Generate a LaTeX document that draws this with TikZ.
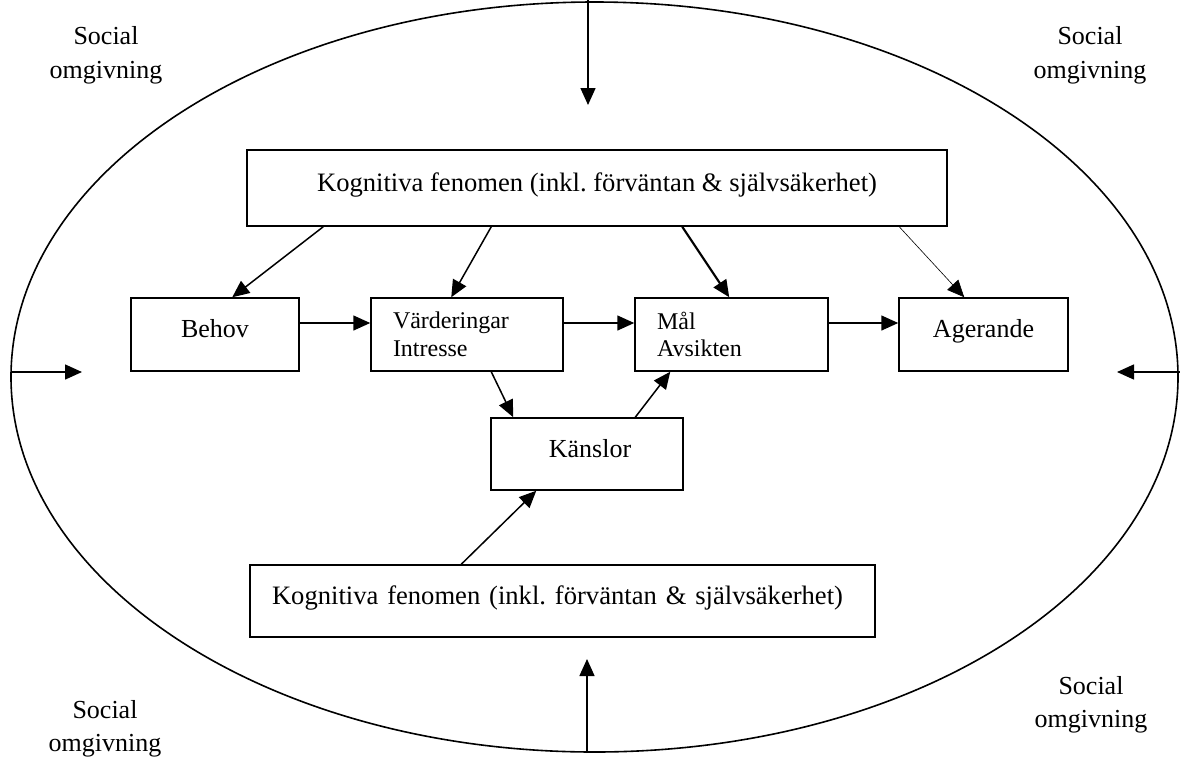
\documentclass[tikz,border=0pt]{standalone}
\usepackage{fontspec}
\setmainfont{Liberation Serif}
\usetikzlibrary{arrows.meta}
\frenchspacing
\begin{document}
\begin{tikzpicture}[x=1pt,y=-1pt,
  line width=1.5pt,
  >={Triangle[length=17pt,width=15pt]},
  box/.style={draw, line width=1.5pt, inner sep=0pt,
    font=\fontsize{26}{30}\selectfont, text height=18pt, text depth=12pt},
  cogbox/.style={box, font=\fontsize{26.6}{30}\selectfont},
  twobox/.style={draw, line width=1.5pt, inner ysep=0pt, inner xsep=22pt,
    align=left, font=\fontsize{24}{27.5}\selectfont},
  envtext/.style={inner sep=0pt, anchor=north, align=center,
    font=\fontsize{26}{33.5}\selectfont},
  link/.style={->, line width=1.5pt}
]
\useasboundingbox (0,0) rectangle (1180,756);

% surrounding social environment
\draw[line width=1.6pt] (594.5,377) ellipse [x radius=583.5, y radius=375];

\node[envtext] (soTL) at (106,26.2)  {Social\\omgivning};
\node[envtext] (soTR) at (1090,26.2) {Social\\omgivning};
\node[envtext] (soBL) at (105,699.5) {Social\\omgivning};
\node[envtext] (soBR) at (1091,675.5) {Social\\omgivning};

% boxes
\node[cogbox, minimum width=700, minimum height=76] (cogTop) at (597,188)
  {Kognitiva fenomen (inkl. förväntan \& självsäkerhet)};
\node[box, minimum width=168, minimum height=73] (behov) at (215,334.5) {Behov};
\node[twobox, text width=148, minimum height=73] (vard) at (467,334.5)
  {Värderingar\\Intresse};
\node[twobox, text width=149, minimum height=73] (mal) at (731.5,334.5)
  {Mål\\Avsikten};
\node[box, minimum width=169, minimum height=73] (ager) at (983.5,334.5) {Agerande};
\node[box, minimum width=192, minimum height=72] (kansl) at (587,454)
  {\hspace*{6pt}Känslor};
\node[cogbox, minimum width=625, minimum height=72, text width=581,
  align=left, inner xsep=22pt] (cogBot) at (562.5,601)
  {Kognitiva fenomen (inkl. förväntan \& självsäkerhet)};

% influences from the environment
\coordinate (inTop) at (588,0);
\coordinate (inTopEnd) at (588,105);
\coordinate (inBot) at (587,753);
\coordinate (inBotEnd) at (587,659);
\coordinate (inLeft) at (11,372);
\coordinate (inLeftEnd) at (82,372);
\coordinate (inRight) at (1180,372);
\coordinate (inRightEnd) at (1117,372);
\draw[link] (inTop) -- (inTopEnd);
\draw[link] (inBot) -- (inBotEnd);
\draw[link] (inLeft) -- (inLeftEnd);
\draw[link] (inRight) -- (inRightEnd);

% cognition to the chain
\draw[link] ([xshift=77pt]cogTop.south west) -- ([xshift=102pt]behov.north west);
\draw[link] ([xshift=245pt]cogTop.south west) -- ([xshift=81pt]vard.north west);
\draw[link, line width=2.2pt] ([xshift=436pt]cogTop.south west) -- ([xshift=95pt]mal.north west);
\draw[link, line width=0.6pt] ([xshift=653pt]cogTop.south west) -- ([xshift=66pt]ager.north west);

% main chain
\draw[link] ([yshift=11.5pt]behov.east) -- ([yshift=11.5pt]vard.west);
\draw[link] ([yshift=11.5pt]vard.east) -- ([yshift=11.5pt]mal.west);
\draw[link] ([yshift=11.5pt]mal.east) -- ([yshift=11.5pt]ager.west);

% feelings
\draw[link] ([xshift=121pt]vard.south west) -- ([xshift=23pt]kansl.north west);
\draw[link] ([xshift=145pt]kansl.north west) -- ([xshift=36pt]mal.south west);
\draw[link] ([xshift=212pt]cogBot.north west) -- ([xshift=46pt]kansl.south west);
\end{tikzpicture}
\end{document}
